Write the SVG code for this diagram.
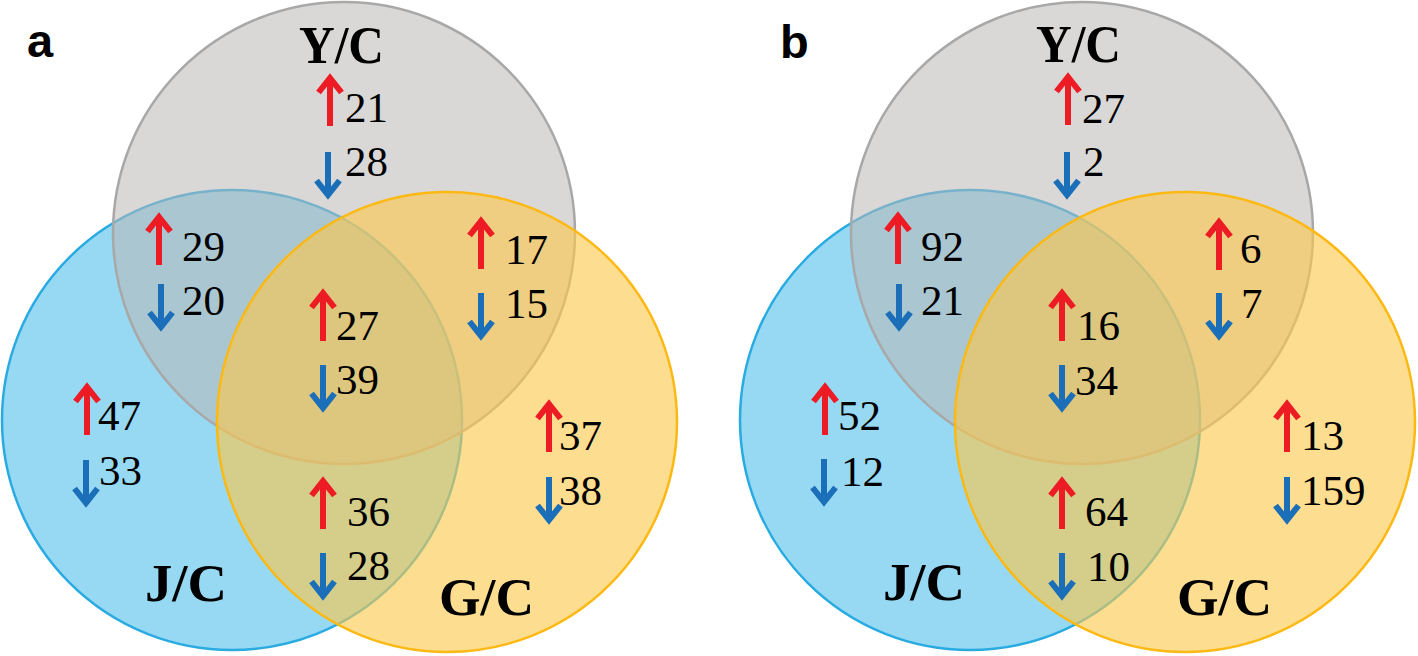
<svg xmlns="http://www.w3.org/2000/svg" xmlns:xlink="http://www.w3.org/1999/xlink" width="1418" height="656" viewBox="0 0 1418 656">
<style>
.bg{fill:#ffffff}
.cb{fill:#97D8F2;stroke:#29ABE2;stroke-width:2.5}
.cg{fill:#BAB8B6;fill-opacity:0.55;stroke:#A9A8A8;stroke-width:2.5}
.cy{fill:#FCC84C;fill-opacity:0.62;stroke:#FDB913;stroke-width:2.5}
.lbl{font-family:"Liberation Serif","Times New Roman",serif;font-weight:bold;font-size:53px;fill:#000}
.num{font-family:"Liberation Serif","Times New Roman",serif;font-size:43px;fill:#000}
.pan{font-family:"Liberation Sans",Arial,sans-serif;font-weight:bold;font-size:47px;fill:#000}
.r{stroke:#ED1C24}
.b{stroke:#1A6FB8}
</style>
<defs>
<path id="up" d="M0,52 V4 M-11.5,18.5 L0,4 L11.5,18.5" fill="none" stroke-width="6" stroke-linejoin="miter"/>
<path id="dn" d="M0,0 V43 M-11.5,28.5 L0,43 L11.5,28.5" fill="none" stroke-width="6" stroke-linejoin="miter"/>
</defs>
<rect class="bg" x="0" y="0" width="1418" height="656"/>

<g id="panel-a">
<text class="pan" x="27" y="57">a</text>
<g id="a-JC"><circle class="cb" cx="232" cy="420" r="230"/></g>
<g id="a-YC"><circle class="cg" cx="344" cy="233" r="231"/></g>
<g id="a-GC"><circle class="cy" cx="447" cy="422" r="230"/></g>
<g id="a-labels">
<text class="lbl" x="299" y="63" textLength="85" lengthAdjust="spacingAndGlyphs">Y/C</text>
<text class="lbl" x="145" y="601" textLength="82" lengthAdjust="spacingAndGlyphs">J/C</text>
<text class="lbl" x="439" y="615" textLength="95" lengthAdjust="spacingAndGlyphs">G/C</text>
</g>
<g id="a-counts">
<use xlink:href="#up" class="r" x="330" y="74"/><text class="num" x="345" y="122">21</text>
<use xlink:href="#dn" class="b" x="328" y="152"/><text class="num" x="345" y="176">28</text>
<use xlink:href="#up" class="r" x="159" y="213"/><text class="num" x="182" y="261">29</text>
<use xlink:href="#dn" class="b" x="161" y="284"/><text class="num" x="182" y="315">20</text>
<use xlink:href="#up" class="r" x="481" y="217"/><text class="num" x="505" y="264">17</text>
<use xlink:href="#dn" class="b" x="481" y="293"/><text class="num" x="505" y="318">15</text>
<use xlink:href="#up" class="r" x="323" y="289"/><text class="num" x="336" y="340">27</text>
<use xlink:href="#dn" class="b" x="323" y="365"/><text class="num" x="336" y="394">39</text>
<use xlink:href="#up" class="r" x="87" y="383"/><text class="num" x="98" y="430">47</text>
<use xlink:href="#dn" class="b" x="86" y="460"/><text class="num" x="99" y="485">33</text>
<use xlink:href="#up" class="r" x="323" y="477"/><text class="num" x="347" y="526">36</text>
<use xlink:href="#dn" class="b" x="323" y="553"/><text class="num" x="347" y="580">28</text>
<use xlink:href="#up" class="r" x="549" y="400"/><text class="num" x="559" y="450">37</text>
<use xlink:href="#dn" class="b" x="549" y="477"/><text class="num" x="559" y="505">38</text>
</g>
</g>

<g id="panel-b">
<text class="pan" x="780" y="58">b</text>
<g id="b-JC"><circle class="cb" cx="970" cy="420" r="230"/></g>
<g id="b-YC"><circle class="cg" cx="1082" cy="233" r="231"/></g>
<g id="b-GC"><circle class="cy" cx="1185" cy="422" r="230"/></g>
<g id="b-labels">
<text class="lbl" x="1036" y="62" textLength="85" lengthAdjust="spacingAndGlyphs">Y/C</text>
<text class="lbl" x="883" y="600" textLength="82" lengthAdjust="spacingAndGlyphs">J/C</text>
<text class="lbl" x="1177" y="615" textLength="95" lengthAdjust="spacingAndGlyphs">G/C</text>
</g>
<g id="b-counts">
<use xlink:href="#up" class="r" x="1068" y="73"/><text class="num" x="1082" y="123">27</text>
<use xlink:href="#dn" class="b" x="1067" y="152"/><text class="num" x="1083" y="176">2</text>
<use xlink:href="#up" class="r" x="898" y="212"/><text class="num" x="921" y="261">92</text>
<use xlink:href="#dn" class="b" x="899" y="284"/><text class="num" x="921" y="315">21</text>
<use xlink:href="#up" class="r" x="1219" y="218"/><text class="num" x="1240" y="263">6</text>
<use xlink:href="#dn" class="b" x="1219" y="293"/><text class="num" x="1241" y="318">7</text>
<use xlink:href="#up" class="r" x="1062" y="289"/><text class="num" x="1077" y="340">16</text>
<use xlink:href="#dn" class="b" x="1062" y="365"/><text class="num" x="1075" y="395">34</text>
<use xlink:href="#up" class="r" x="825" y="383"/><text class="num" x="838" y="430">52</text>
<use xlink:href="#dn" class="b" x="824" y="459"/><text class="num" x="841" y="486">12</text>
<use xlink:href="#up" class="r" x="1062" y="477"/><text class="num" x="1085" y="526">64</text>
<use xlink:href="#dn" class="b" x="1062" y="553"/><text class="num" x="1087" y="581">10</text>
<use xlink:href="#up" class="r" x="1287" y="400"/><text class="num" x="1301" y="450">13</text>
<use xlink:href="#dn" class="b" x="1287" y="477"/><text class="num" x="1301" y="505">159</text>
</g>
</g>
</svg>
